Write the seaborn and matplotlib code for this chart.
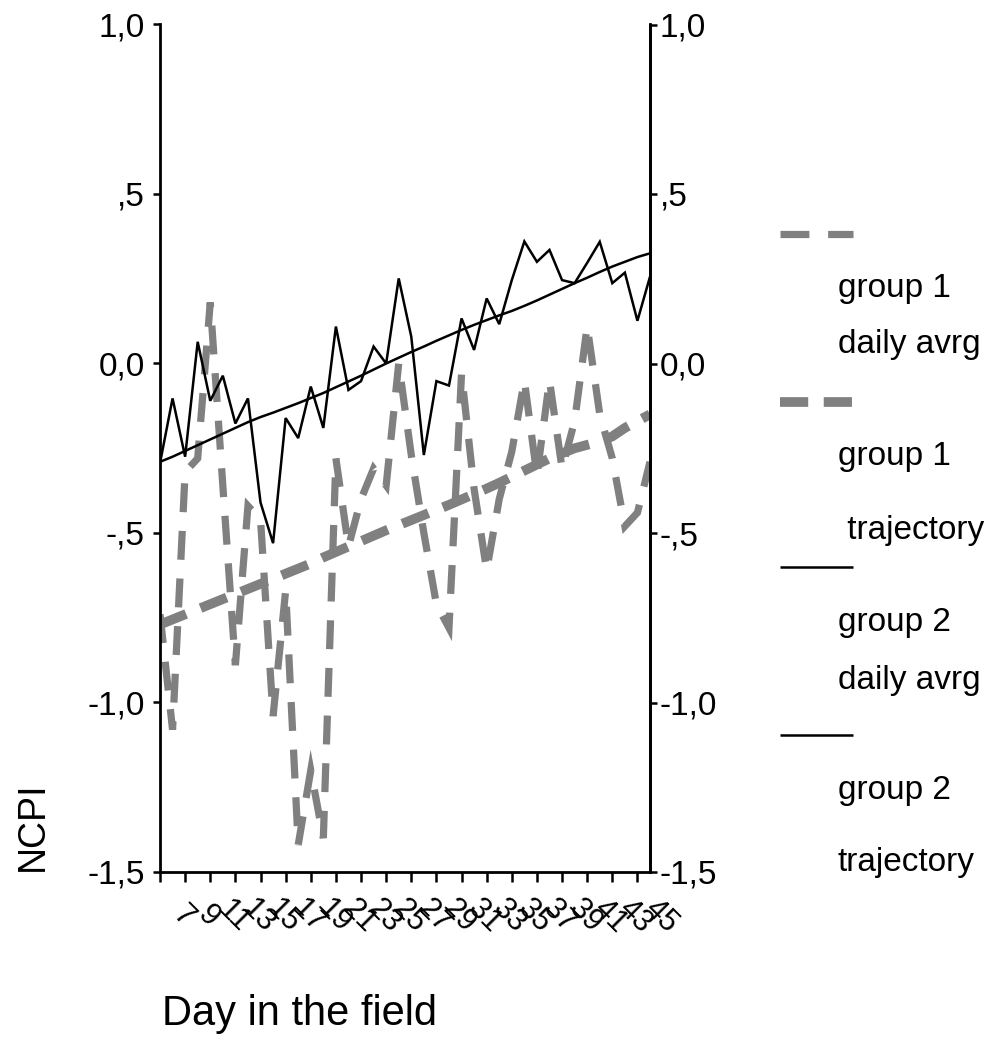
import matplotlib
matplotlib.use("Agg")
import matplotlib.pyplot as plt
from matplotlib.lines import Line2D
from matplotlib.transforms import ScaledTranslation
import pandas as pd
import seaborn as sns

# ---------------- data ----------------
days = list(range(7, 47))

group1_daily = [-0.74, -1.08, -0.32, -0.28, 0.18, -0.36, -0.89, -0.42, -0.46, -1.04,
                -0.67, -1.42, -1.20, -1.40, -0.28, -0.54, -0.40, -0.31, -0.36, 0.00,
                -0.27, -0.50, -0.71, -0.78, -0.03, -0.37, -0.61, -0.40, -0.26, -0.05,
                -0.33, -0.05, -0.31, -0.17, 0.11, -0.15, -0.28, -0.48, -0.44, -0.29]

group1_traj = [-0.77, -0.755, -0.74, -0.725, -0.71, -0.695, -0.68, -0.665, -0.65, -0.635,
               -0.62, -0.605, -0.59, -0.572, -0.556, -0.54, -0.524, -0.508, -0.492, -0.477,
               -0.462, -0.447, -0.432, -0.417, -0.401, -0.385, -0.369, -0.352, -0.334, -0.316,
               -0.298, -0.28, -0.265, -0.25, -0.24, -0.23, -0.215, -0.19, -0.17, -0.15]

group2_daily = [-0.294, -0.103, -0.275, 0.064, -0.11, -0.036, -0.177, -0.103, -0.41, -0.53,
                -0.161, -0.22, -0.068, -0.19, 0.109, -0.078, -0.052, 0.05, 0.0, 0.251,
                0.079, -0.27, -0.052, -0.065, 0.133, 0.04, 0.192, 0.116, 0.246, 0.36,
                0.30, 0.335, 0.246, 0.237, 0.297, 0.359, 0.237, 0.268, 0.126, 0.256]

group2_traj = [-0.29, -0.275, -0.258, -0.241, -0.224, -0.207, -0.19, -0.173, -0.158, -0.145,
               -0.131, -0.117, -0.102, -0.087, -0.07, -0.053, -0.036, -0.018, 0.0, 0.017,
               0.034, 0.05, 0.067, 0.083, 0.099, 0.114, 0.128, 0.142, 0.155, 0.17,
               0.186, 0.203, 0.22, 0.237, 0.253, 0.27, 0.286, 0.30, 0.314, 0.325]

ytick_vals = [1.0, 0.5, 0.0, -0.5, -1.0, -1.5]
ytick_labels = ["1,0", ",5", "0,0", "-,5", "-1,0", "-1,5"]
xtick_vals = list(range(7, 46, 2))
xtick_labels = [str(v) for v in xtick_vals]

legend_first = ["group 1", "group 1", "group 2", "group 2"]
legend_second = ["daily avrg", " trajectory", "daily avrg", "trajectory"]

x_title = "Day in the field"
y_title = "NCPI"

# ---------------- style ----------------
sns.set_style("ticks")
plt.rcParams["font.family"] = ["Liberation Sans", "DejaVu Sans"]
plt.rcParams["text.color"] = "black"
plt.rcParams["axes.labelcolor"] = "black"
plt.rcParams["xtick.color"] = "black"
plt.rcParams["ytick.color"] = "black"
plt.rcParams["axes.edgecolor"] = "black"

GREY = "#808080"
BLACK = "#000000"

W, H = 995, 1038
fig = plt.figure(figsize=(W / 100, H / 100), dpi=100)
L, R, T, B = 160, 650, 24.5, 872
ax = fig.add_axes([L / W, 1 - B / H, (R - L) / W, (B - T) / H])

df = pd.DataFrame({"day": days, "g1d": group1_daily, "g1t": group1_traj,
                   "g2d": group2_daily, "g2t": group2_traj})

daily_dash = (0, (4.0, 2.6))
traj_dash = (0, (2.9, 1.6))

sns.lineplot(data=df, x="day", y="g1t", ax=ax, color=GREY, linewidth=7.0,
             linestyle=traj_dash, dash_joinstyle="miter", dash_capstyle="butt",
             errorbar=None)
sns.lineplot(data=df, x="day", y="g1d", ax=ax, color=GREY, linewidth=5.2,
             linestyle=daily_dash, dash_joinstyle="miter", dash_capstyle="butt",
             errorbar=None)
sns.lineplot(data=df, x="day", y="g2t", ax=ax, color=BLACK, linewidth=1.8,
             solid_joinstyle="miter", errorbar=None)
sns.lineplot(data=df, x="day", y="g2d", ax=ax, color=BLACK, linewidth=1.8,
             solid_joinstyle="miter", errorbar=None)

ax.set_xlim(7, 46)
ax.set_ylim(-1.5, 1.0)
ax.set_xlabel("")
ax.set_ylabel("")

for side in ["left", "bottom", "right"]:
    ax.spines[side].set_linewidth(2.0)
    ax.spines[side].set_color(BLACK)
ax.spines["top"].set_visible(False)

ax.set_yticks(ytick_vals)
ax.set_yticklabels(ytick_labels)
ax.tick_params(axis="y", direction="out", length=5, width=1.8, labelsize=24,
               pad=6, colors=BLACK)

ax.set_xticks(xtick_vals)
ax.set_xticklabels(xtick_labels, rotation=-45, ha="center", va="center",
                   rotation_mode="anchor")
ax.tick_params(axis="x", direction="out", length=7.2, width=1.8, labelsize=22,
               pad=25, colors=BLACK)
offset = ScaledTranslation(23 / 100, 0, fig.dpi_scale_trans)
for lbl in ax.get_xticklabels():
    lbl.set_transform(lbl.get_transform() + offset)

ax2 = ax.twinx()
ax2.set_ylim(-1.5, 1.0)
ax2.set_yticks(ytick_vals)
ax2.set_yticklabels(ytick_labels)
for side in ["left", "bottom", "top"]:
    ax2.spines[side].set_visible(False)
ax2.spines["right"].set_linewidth(2.0)
ax2.spines["right"].set_color(BLACK)
ax2.tick_params(axis="y", direction="out", length=5, width=1.8, labelsize=24,
                pad=2, colors=BLACK)
ax2.set_ylabel("")

# axis titles
fig.text(33 / W, 1 - 826 / H, y_title, rotation=90, ha="center", va="center",
         fontsize=27, color=BLACK)
fig.text(162 / W, 1 - 1025 / H, x_title, ha="left", va="baseline", fontsize=30,
         color=BLACK)

# legend (handle above two-line label, as in the reference)
handle_y = [234, 402, 567, 735]
text1_y = [288, 456, 622, 790]
text2_y = [345, 530, 680, 862]
handle_styles = [
    dict(color=GREY, lw=5.2, linestyle=daily_dash),
    dict(color=GREY, lw=7.0, linestyle=traj_dash),
    dict(color=BLACK, lw=1.8, linestyle="-"),
    dict(color=BLACK, lw=1.8, linestyle="-"),
]
for i in range(4):
    yy = 1 - handle_y[i] / H
    fig.add_artist(Line2D([780 / W, 853 / W], [yy, yy], transform=fig.transFigure,
                          dash_capstyle="butt", solid_capstyle="butt",
                          **handle_styles[i]))
    fig.text(838 / W, 1 - text1_y[i] / H, legend_first[i], ha="left", va="center",
             fontsize=24, color=BLACK)
    fig.text(838 / W, 1 - text2_y[i] / H, legend_second[i], ha="left", va="center",
             fontsize=24, color=BLACK)

fig.savefig("out.png", dpi=100)
